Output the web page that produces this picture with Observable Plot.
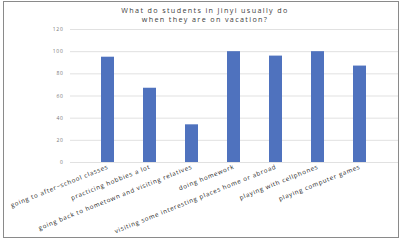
<!DOCTYPE html>
<html><head><meta charset="utf-8">
<script src="https://cdn.jsdelivr.net/npm/d3@7"></script>
<script src="https://cdn.jsdelivr.net/npm/@observablehq/plot@0.6"></script>
<style>
body{margin:0;background:#fff;font-family:"Open Sans",sans-serif;}
#wrap{position:relative;width:402px;height:242px;overflow:hidden;}
#frame{position:absolute;left:3px;top:1px;width:394px;height:235px;border:1.5px solid #8a8a8a;pointer-events:none;}
.title{position:absolute;left:0;width:410px;text-align:center;font-size:7.2px;line-height:7.2px;height:7.2px;color:#404040;letter-spacing:1.35px;}
#chart{position:absolute;left:0;top:0;}
#chart g[aria-label="x-axis tick label"] text{letter-spacing:0.75px;}
#chart g[aria-label="y-axis tick label"] text{letter-spacing:0.7px;}
</style></head><body>
<div id="wrap"><div id="chart"></div>
<div class="title" style="top:7px">What do students in Jinyi usually do</div>
<div class="title" style="top:16px">when they are on vacation?</div>
<div id="frame"></div></div>
<script>
const categories = [
  "going to after−school classes",
  "practicing hobbies a lot",
  "going back to hometown and visiting relatives",
  "doing homework",
  "visiting some interesting places home or abroad",
  "playing with cellphones",
  "playing computer games"
];
const values = [95, 67, 34, 100, 96, 100, 87];
const yTicks = [0, 20, 40, 60, 80, 100, 120];
const data = categories.map((c, i) => ({category: c, value: values[i]}));

const chart = Plot.plot({
  width: 402, height: 242,
  marginLeft: 70, marginRight: 4, marginTop: 29, marginBottom: 80,
  style: {fontFamily: "Open Sans, sans-serif", background: "transparent"},
  x: {domain: categories, padding: 0.68, label: null},
  y: {domain: [0, 120], label: null},
  marks: [
    Plot.gridY(yTicks, {stroke: "#d9d9d9", strokeOpacity: 1, strokeWidth: 0.8}),
    Plot.axisY(yTicks, {tickSize: 0, tickPadding: 7, fontSize: 5, fill: "#777", label: null}),
    Plot.barY(data, {x: "category", y: "value", fill: "#4f72be"}),
    Plot.axisX({tickSize: 0, tickPadding: 4, tickRotate: -22, fontSize: 6.2, fill: "#222", label: null})
  ]
});
document.getElementById("chart").appendChild(chart);
</script>
</body></html>
